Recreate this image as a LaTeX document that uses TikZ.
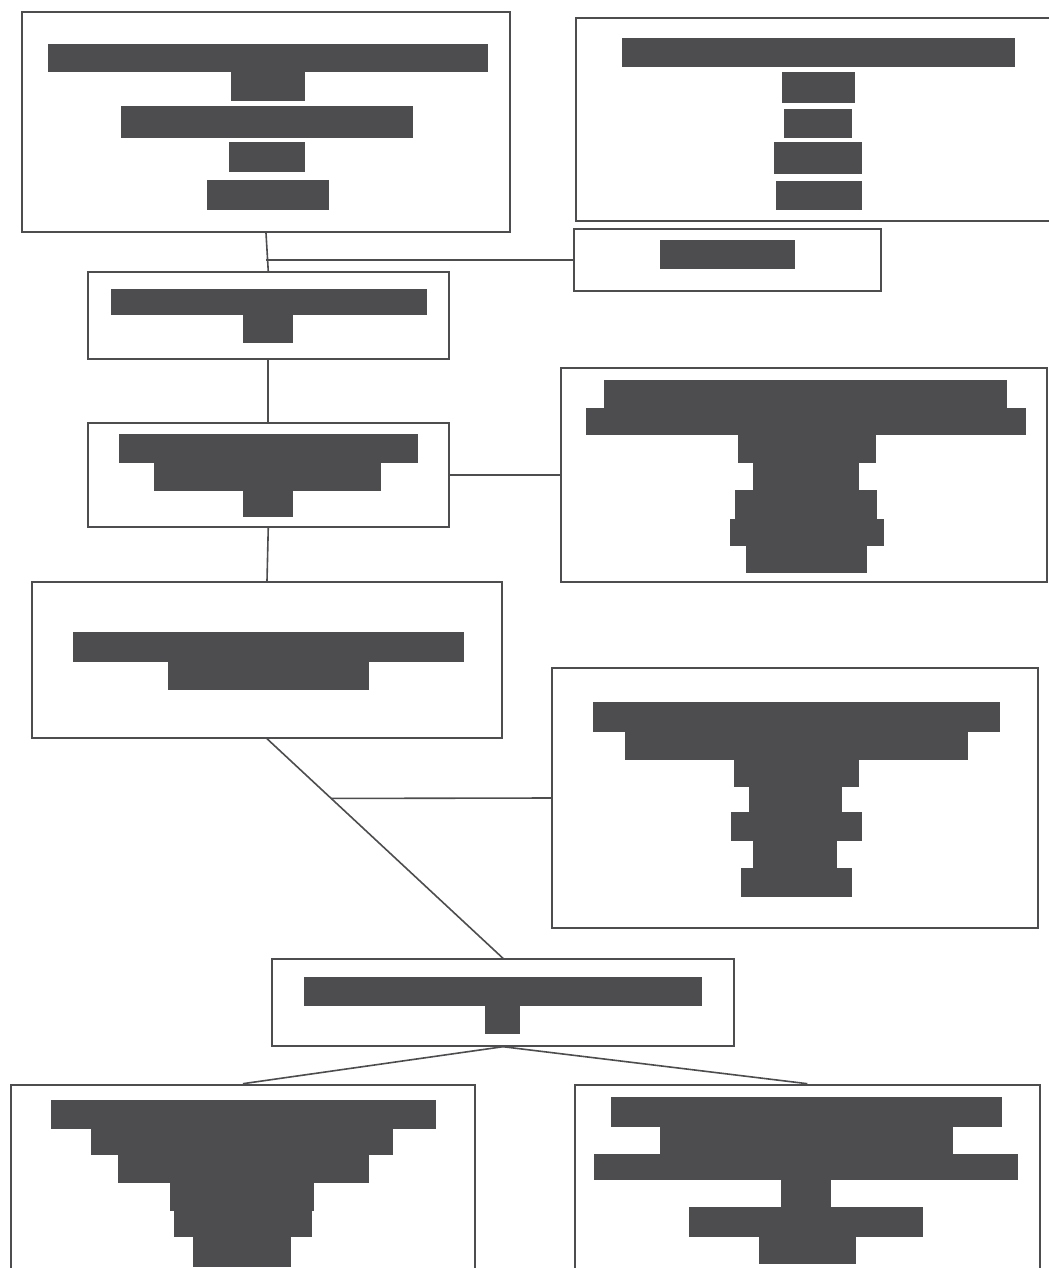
\documentclass[tikz,border=0pt]{standalone}
\usetikzlibrary{fit,calc}
\definecolor{ink}{RGB}{77,77,80}
\begin{document}
\begin{tikzpicture}[x=0.75pt,y=-0.75pt,
  box/.style={draw=ink,line width=1.5pt,inner sep=0pt},
  link/.style={draw=ink,line width=1.2pt},
  bar/.style={fill=ink}]
\useasboundingbox (0,0) rectangle (1049,1268);
\clip (0,0) rectangle (1049,1268);
\fill[white] (0,0) rectangle (1049,1268);

% boxes
\node[box,fit={(22,12) (510,232)}] (A) {};
\node[box,fit={(576,18) (1060,221)}] (C) {};
\node[box,fit={(573.5,228.5) (880.5,291)}] (D) {};
\node[box,fit={(87.5,272) (449,359)}] (B) {};
\node[box,fit={(87.5,423.3) (449,527)}] (G) {};
\node[box,fit={(561.3,368) (1047,582.3)}] (H) {};
\node[box,fit={(32,582) (502,737.7)}] (E) {};
\node[box,fit={(552.3,668.3) (1038.3,927.7)}] (I) {};
\node[box,fit={(272.2,959.3) (733.8,1045.7)}] (F) {};
\node[box,fit={(10.7,1084.7) (475,1290)}] (J) {};
\node[box,fit={(575.3,1084.7) (1039.5,1290)}] (K) {};

% bars in A
\fill[bar] (48,43.5) rectangle (488,72);
\fill[bar] (231,71) rectangle (305,100.5);
\fill[bar] (121,106) rectangle (413,138);
\fill[bar] (229,142) rectangle (305,172);
\fill[bar] (207,180) rectangle (328.5,210);
% bars in C
\fill[bar] (622,38) rectangle (1015,67);
\fill[bar] (781.5,71.5) rectangle (855,103);
\fill[bar] (784,109) rectangle (852,138);
\fill[bar] (774,142) rectangle (862,174);
\fill[bar] (776,181) rectangle (862,210);
% bar in D
\fill[bar] (659.5,240) rectangle (795,268.6);
% bars in B
\fill[bar] (111,289) rectangle (427,315.3);
\fill[bar] (243,314.5) rectangle (292.5,343.3);
% bars in G
\fill[bar] (118.6,433.7) rectangle (418,462.7);
\fill[bar] (154,462) rectangle (381,491);
\fill[bar] (243,490.5) rectangle (292.5,516.7);
% bars in H
\fill[bar] (604.3,379.7) rectangle (1006.7,408.5);
\fill[bar] (586.3,408) rectangle (1026,434.8);
\fill[bar] (737.7,434.3) rectangle (876,463.2);
\fill[bar] (753,462.7) rectangle (859.3,490.8);
\fill[bar] (735,490.3) rectangle (877.3,519.2);
\fill[bar] (730,518.7) rectangle (883.7,545.5);
\fill[bar] (745.7,545) rectangle (867,572.7);
% bars in E
\fill[bar] (72.5,632.3) rectangle (464.3,661.8);
\fill[bar] (168,661.3) rectangle (369.3,689.7);
% bars in I
\fill[bar] (592.7,702) rectangle (1000.3,731.5);
\fill[bar] (625,731) rectangle (968.3,759.5);
\fill[bar] (733.7,759) rectangle (859,787.2);
\fill[bar] (749.3,786.7) rectangle (842.3,812.5);
\fill[bar] (731.3,812) rectangle (862,840.8);
\fill[bar] (753.3,840.3) rectangle (837.3,868.5);
\fill[bar] (741.3,868) rectangle (851.7,897);
% bars in F
\fill[bar] (304.3,976.7) rectangle (702.3,1006.2);
\fill[bar] (485,1005.7) rectangle (520.4,1034);
% bars in J
\fill[bar] (50.8,1099.7) rectangle (436.1,1128.8);
\fill[bar] (91,1128.3) rectangle (393.3,1154.8);
\fill[bar] (117.7,1154.3) rectangle (369.2,1182.8);
\fill[bar] (170,1182.3) rectangle (314.4,1210.8);
\fill[bar] (174,1210.3) rectangle (312.4,1236.5);
\fill[bar] (193.3,1236) rectangle (291,1266.7);
% bars in K
\fill[bar] (610.7,1097) rectangle (1002,1126.5);
\fill[bar] (660.2,1126) rectangle (953.2,1154.2);
\fill[bar] (594,1153.7) rectangle (1018,1180.2);
\fill[bar] (781.3,1179.7) rectangle (830.8,1207.8);
\fill[bar] (689,1207.3) rectangle (923,1236.5);
\fill[bar] (758.5,1236) rectangle (855.5,1264);

% connectors
\coordinate (ad) at (A.south |- D.west);
\coordinate (ei) at ($(E.south)!0.272!(F.north)$);
\draw[link] (A.south) -- (B.north);
\draw[link] (ad) -- (D.west);
\draw[link] (B.south) -- (G.north);
\draw[link] (G.east) -- (H.west);
\draw[link] (G.south) -- (E.north);
\draw[link] (E.south) -- (F.north);
\draw[link] (ei) -- (I.west);
\draw[link] (F.south) -- (J.north);
\draw[link] (F.south) -- (K.north);
\end{tikzpicture}
\end{document}
